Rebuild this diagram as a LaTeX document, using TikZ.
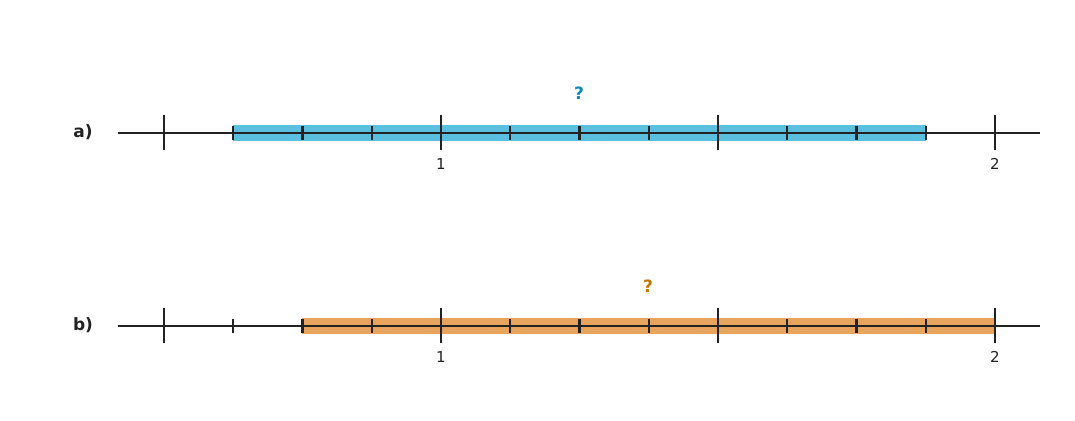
\documentclass[tikz,border=0pt]{standalone}
\usepackage{fontspec}
\setmainfont{DejaVu Sans}
\definecolor{barblue}{HTML}{5BC0E0}
\definecolor{barorange}{HTML}{E8A35C}
\definecolor{qblue}{HTML}{0A8AB8}
\definecolor{qorange}{HTML}{C47600}
\definecolor{ink}{HTML}{222222}
\begin{document}
\begin{tikzpicture}[x=1pt,y=-1pt,
  axis/.style={draw=ink,line width=2.2pt},
  major/.style={draw=ink,line width=2.4pt},
  minor/.style={draw=ink,line width=2.2pt},
  lab/.style={font=\bfseries\fontsize{17}{20}\selectfont,text=ink},
  num/.style={font=\fontsize{15}{18}\selectfont,text=ink},
  q/.style={font=\bfseries\fontsize{17}{20}\selectfont}]
\useasboundingbox (0,0) rectangle (1075,420);
\foreach \y/\l/\a/\b/\c/\qc/\qx in {133/a)/233/926/barblue/qblue/579, 326/b)/302/995/barorange/qorange/648}{
  \fill[\c] (\a,\y-8) rectangle (\b,\y+8);
  \draw[axis] (118,\y) -- (1040,\y);
  \foreach \i in {0,...,12}{
    \pgfmathsetmacro\xx{164+69.25*\i}
    \pgfmathtruncatemacro\m{mod(\i,4)}
    \ifnum\m=0
      \draw[major] (\xx,\y-18) -- (\xx,\y+17);
    \else
      \draw[minor] (\xx,\y-7) -- (\xx,\y+7);
    \fi
  }
  \node[lab] at (83,\y-1) {\l};
  \node[num] at (441,\y+31) {1};
  \node[num] at (995,\y+31) {2};
  \node[q,text=\qc] at (\qx,\y-40) {?};
}
\end{tikzpicture}
\end{document}
